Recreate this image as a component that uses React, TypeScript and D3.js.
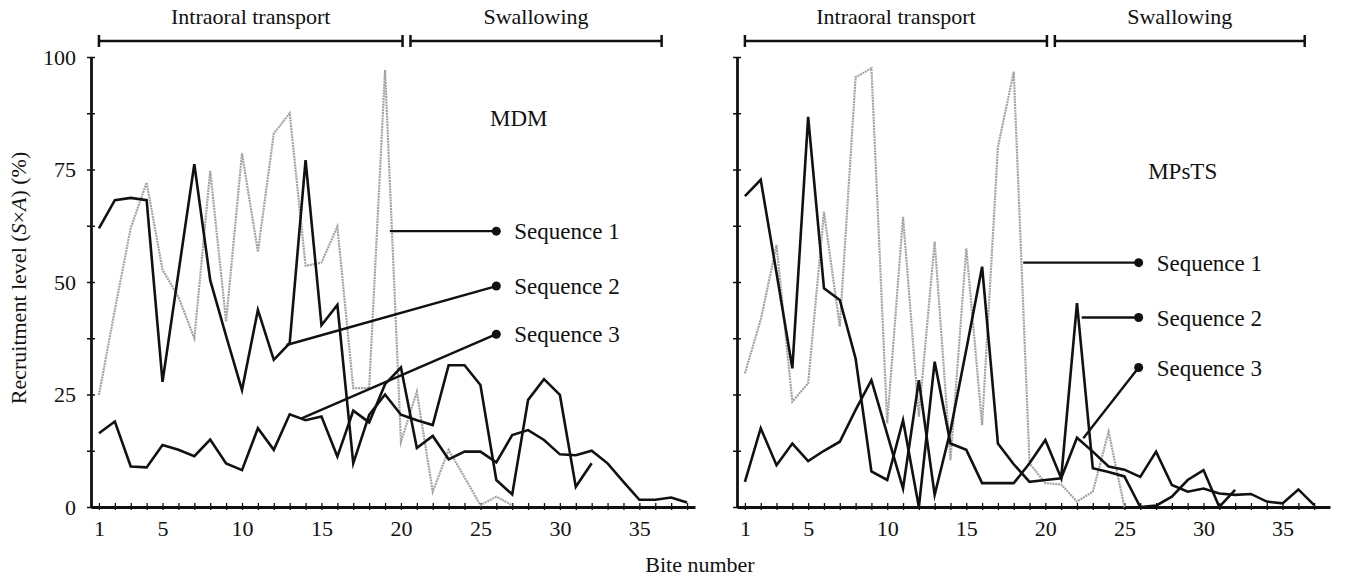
import React, { useEffect, useRef } from 'react';
import * as d3 from 'd3';

// tick labels
const biteLabels = [1, 5, 10, 15, 20, 25, 30, 35];
const yMajor = [0, 25, 50, 75, 100];
const yMinor = [12.5, 37.5, 62.5, 87.5];

// MDM panel, recruitment level per bite
const mdmSeq1 = [24.9, 43.8, 62, 72.1, 52.7, 46.7, 37.5, 74.7, 41.2, 78.6, 56.7, 83, 87.5, 53.6, 54.3, 62.3, 26.4, 26.4, 97.1, 14.5, 25.6, 3.4, 12.7, 6.6, 0.4, 2.3, 0.4];
const mdmSeq2 = [61.9, 68.2, 68.7, 68.2, 27.8, 52, 76.2, 50.4, 38, 26, 43.8, 32.7, 36.4, 77.1, 40.4, 44.9, 9.7, 20.5, 25, 20.5, 19.3, 18.2, 31.5, 31.5, 27.1, 6.0, 2.8, 23.8, 28.4, 24.9, 4.5, 9.7];
const mdmSeq3 = [16.4, 19.0, 9.0, 8.8, 13.8, 12.7, 11.3, 15.0, 9.7, 8.2, 17.5, 12.7, 20.6, 19.3, 20.1, 11.2, 21.4, 18.8, 27.3, 31, 13.1, 15.8, 10.6, 12.3, 12.3, 9.9, 16, 17.1, 14.9, 11.7, 11.5, 12.5, 9.7, 5.6, 1.6, 1.6, 2.1, 1.0];

// MPsTS panel
const mpsSeq1 = [29.7, 41.6, 58.2, 23.4, 27.5, 65.6, 40.1, 95.5, 97.5, 18.6, 64.5, 20.1, 59, 10.4, 57.5, 18.2, 80, 96.7, 9.7, 5.3, 5.0, 1.2, 3.4, 16.7, 0];
const mpsSeq2 = [69.1, 72.7, 52, 30.8, 86.7, 48.6, 46, 33, 7.9, 6, 19.3, 0, 32.3, 14.1, 12.7, 5.3, 5.3, 5.3, 9.7, 14.9, 6.4, 45.3, 8.6, 7.8, 6.8, 0, 0.3, 2.3, 6, 8.2, 0, 3.8];
const mpsSeq3 = [5.6, 17.5, 9.3, 14.1, 10.2, 12.5, 14.5, 21.6, 28.2, 16.2, 4.1, 28.2, 2.7, 17, 35, 53.4, 14.1, 9.5, 5.6, 6.0, 6.4, 15.4, 12.3, 9, 8.3, 6.7, 12.3, 4.9, 3.4, 4.1, 3, 2.7, 2.9, 1.2, 0.8, 3.9, 0.4];

const seqNames = ['Sequence 1', 'Sequence 2', 'Sequence 3'];
const seqColors = ['#a3a3a3', '#111', '#111'];

// phase bars, in bite units
const phaseNames = ['Intraoral transport', 'Swallowing'];
const phaseFrom = [1, 20.6];
const phaseTo = [20.1, 36.4];

// leader lines [bite, value] : start on the curve, end at the dot
const mdmLeadFrom = [[19.3, 61.3], [12.8, 36], [13.75, 19.7]];
const mdmLeadTo = [[26, 61.3], [26, 49.1], [26, 38.4]];
const mpsLeadFrom = [[18.6, 54.3], [22.3, 42.1], [22.4, 15.3]];
const mpsLeadTo = [[25.9, 54.3], [25.9, 42.1], [25.9, 31.0]];

const FONT = '"Liberation Serif", "Times New Roman", serif';

export default function App() {
  const ref = useRef<SVGSVGElement>(null);

  useEffect(() => {
    if (!ref.current) return;
    const svg = d3.select(ref.current);
    svg.selectAll('*').remove();

    const y = d3.scaleLinear().domain([0, 100]).range([507, 57]);

    const panels = [
      {
        name: 'MDM', nameAt: [25.6, 84.7],
        x: d3.scaleLinear().domain([0.5, 38.5]).range([91, 695]),
        lastTick: 38, yLabels: true,
        series: [mdmSeq1, mdmSeq2, mdmSeq3],
        from: mdmLeadFrom, to: mdmLeadTo,
      },
      {
        name: 'MPsTS', nameAt: [26.5, 73],
        x: d3.scaleLinear().domain([0.5, 38]).range([737, 1330]),
        lastTick: 37, yLabels: false,
        series: [mpsSeq1, mpsSeq2, mpsSeq3],
        from: mpsLeadFrom, to: mpsLeadTo,
      },
    ];

    panels.forEach(p => {
      const x = p.x;
      const g = svg.append('g');

      // phase bars
      phaseNames.forEach((name, i) => {
        const x0 = x(phaseFrom[i]);
        const x1 = x(phaseTo[i]);
        const by = 41;
        g.append('line').attr('x1', x0).attr('x2', x1).attr('y1', by).attr('y2', by)
          .attr('stroke', '#111').attr('stroke-width', 2.5);
        [x0, x1].forEach(xx => {
          g.append('line').attr('x1', xx).attr('x2', xx).attr('y1', by - 6).attr('y2', by + 6)
            .attr('stroke', '#111').attr('stroke-width', 2.5);
        });
        g.append('text').attr('x', (x0 + x1) / 2).attr('y', 24).attr('text-anchor', 'middle')
          .attr('font-family', FONT).attr('font-size', 22).attr('fill', '#111').text(name);
      });

      // y axis
      const yAxis = d3.axisLeft(y)
        .tickValues([...yMajor, ...yMinor])
        .tickFormat((d: any) => (p.yLabels && yMajor.includes(d) ? String(d) : ''))
        .tickSizeOuter(0).tickSizeInner(4).tickPadding(11);
      const ya = g.append('g').attr('transform', `translate(${x(0.5)},0)`).call(yAxis);
      ya.select('.domain').attr('stroke', '#111').attr('stroke-width', 2.8);
      ya.selectAll('.tick line').attr('x1', 4).attr('x2', -4).attr('stroke', '#111').attr('stroke-width', 1.5);
      ya.selectAll('.tick text').attr('font-family', FONT).attr('font-size', 22).attr('fill', '#111');

      // x axis
      const xAxis = d3.axisBottom(x)
        .tickValues(d3.range(1, p.lastTick + 1))
        .tickFormat((d: any) => (biteLabels.includes(d) ? String(d) : ''))
        .tickSizeOuter(0).tickSizeInner(3).tickPadding(10);
      const xa = g.append('g').attr('transform', `translate(0,${y(0)})`).call(xAxis);
      xa.select('.domain').attr('stroke', '#111').attr('stroke-width', 2.8);
      xa.selectAll('.tick line').attr('y1', -4).attr('y2', 3).attr('stroke', '#111').attr('stroke-width', 1.3);
      xa.selectAll('.tick text').attr('font-family', FONT).attr('font-size', 22).attr('fill', '#111');

      // series
      const line = d3.line<number>().x((_, i) => x(i + 1)).y(d => y(d));
      p.series.forEach((s, i) => {
        g.append('path').attr('d', line(s)).attr('fill', 'none')
          .attr('stroke', seqColors[i]).attr('stroke-width', i === 0 ? 2.2 : 2.6)
          .attr('stroke-dasharray', i === 0 ? '2 0.8' : null)
          .attr('stroke-linejoin', 'miter').attr('stroke-miterlimit', 6);
      });

      // leaders + sequence names
      seqNames.forEach((name, i) => {
        const [fb, fv] = p.from[i];
        const [tb, tv] = p.to[i];
        g.append('line').attr('x1', x(fb)).attr('y1', y(fv)).attr('x2', x(tb)).attr('y2', y(tv))
          .attr('stroke', '#111').attr('stroke-width', 2.4);
        g.append('circle').attr('cx', x(tb)).attr('cy', y(tv)).attr('r', 4.5).attr('fill', '#111');
        g.append('text').attr('x', x(tb) + 18).attr('y', y(tv) + 8)
          .attr('font-family', FONT).attr('font-size', 23).attr('fill', '#111').text(name);
      });

      g.append('text').attr('x', x(p.nameAt[0])).attr('y', y(p.nameAt[1]))
        .attr('font-family', FONT).attr('font-size', 23).attr('fill', '#111').text(p.name);
    });

    // axis titles
    svg.append('text').attr('x', 700).attr('y', 572).attr('text-anchor', 'middle')
      .attr('font-family', FONT).attr('font-size', 22).attr('fill', '#111').text('Bite number');

    const yt = svg.append('text').attr('transform', 'translate(26,278) rotate(-90)')
      .attr('text-anchor', 'middle').attr('font-family', FONT).attr('font-size', 22).attr('fill', '#111');
    yt.append('tspan').text('Recruitment level (');
    yt.append('tspan').attr('font-style', 'italic').text('S');
    yt.append('tspan').text('×');
    yt.append('tspan').attr('font-style', 'italic').text('A');
    yt.append('tspan').text(') (%)');
  }, []);

  return (
    <svg ref={ref} width={1350} height={577}
      style={{ position: 'absolute', left: 0, top: 0, background: '#fff' }} />
  );
}
